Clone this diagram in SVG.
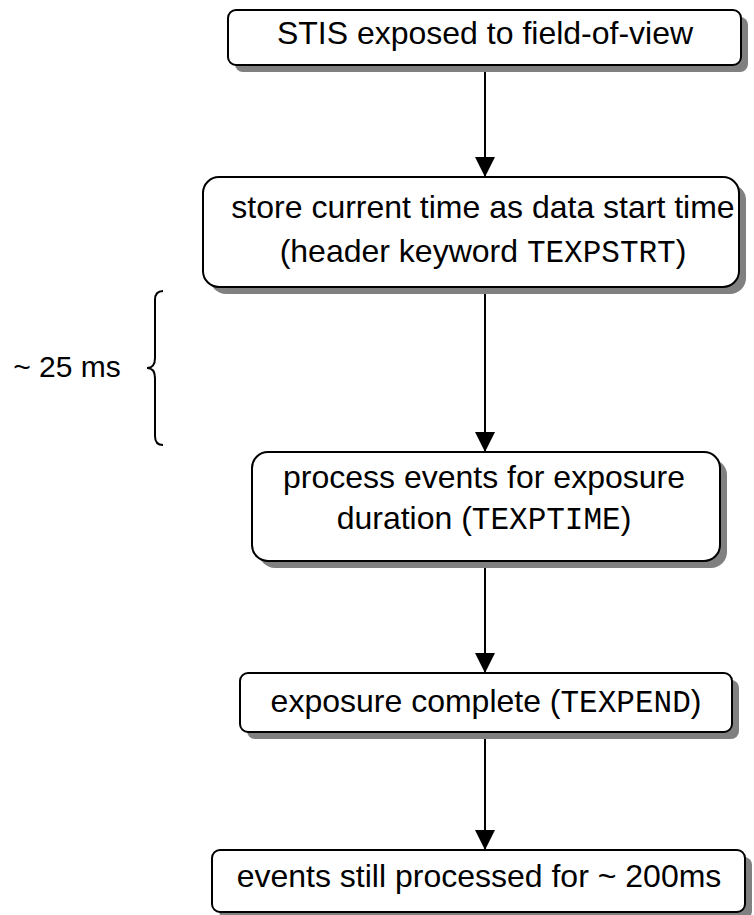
<svg xmlns="http://www.w3.org/2000/svg" width="754" height="915" viewBox="0 0 754 915">
<defs>
<style>
.box{fill:#fff;stroke:#000;stroke-width:2}
.sh{fill:#808080}
.t{font-family:"Liberation Sans",Arial,sans-serif;font-size:32px;fill:#000;text-anchor:middle}
.m{font-family:"Liberation Mono","Courier New",monospace;font-size:31px}
.c{stroke:#000;stroke-width:2;fill:none}
</style>
<marker id="ah" markerWidth="20" markerHeight="20" refX="20" refY="10" orient="auto" markerUnits="userSpaceOnUse">
<path d="M0,0 L20,10 L0,20 Z" fill="#000"/>
</marker>
</defs>
<rect width="754" height="915" fill="#fff"/>
<g id="connectors">
<line class="c" x1="485" y1="65" x2="485" y2="177" marker-end="url(#ah)"/>
<line class="c" x1="485" y1="287" x2="485" y2="452" marker-end="url(#ah)"/>
<line class="c" x1="485" y1="561" x2="485" y2="673" marker-end="url(#ah)"/>
<line class="c" x1="485" y1="732" x2="485" y2="850" marker-end="url(#ah)"/>
</g>
<g id="n1">
<rect class="sh" x="235" y="17" width="513" height="55" rx="8"/>
<rect class="box" x="228" y="10" width="513" height="55" rx="8"/>
<text class="t" x="485" y="44">STIS exposed to field-of-view</text>
</g>
<g id="n2">
<rect class="sh" x="210" y="184" width="536" height="110" rx="16"/>
<rect class="box" x="203" y="177" width="536" height="110" rx="16"/>
<text class="t" x="483" y="218">store current time as data start time</text>
<text class="t" x="483" y="262">(header keyword <tspan class="m">TEXPSTRT</tspan>)</text>
</g>
<g id="n3">
<rect class="sh" x="259" y="459" width="468" height="109" rx="16"/>
<rect class="box" x="252" y="452" width="468" height="109" rx="16"/>
<text class="t" x="484" y="488">process events for exposure</text>
<text class="t" x="484" y="529">duration (<tspan class="m">TEXPTIME</tspan>)</text>
</g>
<g id="n4">
<rect class="sh" x="247" y="680" width="492" height="59" rx="8"/>
<rect class="box" x="240" y="673" width="492" height="59" rx="8"/>
<text class="t" x="486" y="712">exposure complete (<tspan class="m">TEXPEND</tspan>)</text>
</g>
<g id="n5">
<rect class="sh" x="219" y="857" width="533" height="62" rx="8"/>
<rect class="box" x="212" y="850" width="533" height="62" rx="8"/>
<text class="t" x="479" y="887">events still processed for ~ 200ms</text>
</g>
<g id="brace">
<path class="c" d="M163,291 Q155,291 155,300 L155,358 Q155,368 147,368 Q155,368 155,378 L155,436 Q155,445 163,445"/>
<text class="t" x="67" y="377" style="font-size:30px">~ 25 ms</text>
</g>
</svg>
